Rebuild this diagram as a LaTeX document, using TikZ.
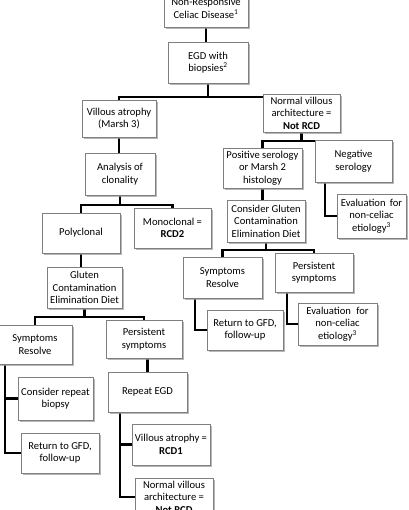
\documentclass[tikz,border=0pt]{standalone}
\usepackage{fontspec}
\setmainfont{Carlito}
\usetikzlibrary{shadows,backgrounds}
\definecolor{boxline}{HTML}{7F7F7F}
\begin{document}
\begin{tikzpicture}[x=1pt,y=-1pt,
  nbox/.style={rectangle, draw=boxline, line width=0.8pt, fill=white,
    drop shadow={shadow xshift=2pt, shadow yshift=-2pt, fill=black!40, opacity=0.7},
    align=center, inner sep=1pt, font=\fontsize{10.6}{12.5}\selectfont},
  conn/.style={draw=black, line width=2.2pt}]
\useasboundingbox (0,0) rectangle (408,510);
% nodes: center, width, height
\node[nbox, minimum width=84pt, minimum height=37pt] (A) at (206,8.5) {Non-Responsive\\Celiac Disease\textsuperscript{1}};
\node[nbox, minimum width=80pt, minimum height=41pt] (B) at (208,62.5) {EGD with\\biopsies\textsuperscript{2}};
\node[nbox, minimum width=74pt, minimum height=37pt] (C) at (119,118.5) {Villous atrophy\\(Marsh 3)};
\node[nbox, minimum width=77pt, minimum height=38pt] (D) at (301.5,113) {Normal villous\\architecture =\\\textbf{Not RCD}};
\node[nbox, minimum width=70pt, minimum height=42pt] (E) at (120,174) {Analysis of\\clonality};
\node[nbox, minimum width=78pt, minimum height=40pt] (F) at (81,233) {Polyclonal};
\node[nbox, minimum width=77pt, minimum height=40pt] (G) at (172.5,228) {Monoclonal =\\\textbf{RCD2}};
\node[nbox, minimum width=75pt, minimum height=41pt] (H) at (84.5,287.5) {Gluten\\Contamination\\Elimination Diet};
\node[nbox, minimum width=74pt, minimum height=39pt] (I) at (35,344.5) {Symptoms\\Resolve};
\node[nbox, minimum width=76pt, minimum height=38pt] (J) at (144,339) {Persistent\\symptoms};
\node[nbox, minimum width=75pt, minimum height=43pt] (K) at (55.5,398.5) {Consider repeat\\biopsy};
\node[nbox, minimum width=78pt, minimum height=40pt] (L) at (60,453) {Return to GFD,\\follow-up};
\node[nbox, minimum width=79pt, minimum height=40pt] (M) at (147.5,392) {Repeat EGD};
\node[nbox, minimum width=78pt, minimum height=41pt] (N) at (171,444.5) {Villous atrophy =\\\textbf{RCD1}};
\node[nbox, minimum width=78pt, minimum height=38pt] (O) at (174,497) {Normal villous\\architecture =\\\textbf{Not RCD}};
\node[nbox, minimum width=79pt, minimum height=40pt] (P) at (262.5,168) {Positive serology\\or Marsh 2\\histology};
\node[nbox, minimum width=77pt, minimum height=42pt] (Q) at (353.5,161) {Negative\\serology};
\node[nbox, minimum width=69pt, minimum height=44pt] (R) at (371.5,216) {Evaluation\hspace{0.4em}for\\non-celiac\\etiology\textsuperscript{3}};
\node[nbox, minimum width=78pt, minimum height=42pt] (S) at (266,221) {Consider Gluten\\Contamination\\Elimination Diet};
\node[nbox, minimum width=79pt, minimum height=41pt] (T) at (222.5,277.5) {Symptoms\\Resolve};
\node[nbox, minimum width=78pt, minimum height=39pt] (U) at (314,272.5) {Persistent\\symptoms};
\node[nbox, minimum width=76pt, minimum height=40pt] (V) at (245,330) {Return to GFD,\\follow-up};
\node[nbox, minimum width=79pt, minimum height=42pt] (W) at (337.5,324) {Evaluation\hspace{0.5em}for\\non-celiac\\etiology\textsuperscript{3}};
% bus levels and elbow columns
\coordinate (busB) at (0,97);
\coordinate (busE) at (0,205);
\coordinate (busH) at (0,317);
\coordinate (busD) at (0,141);
\coordinate (busS) at (0,250);
\coordinate (iL) at (5,0);
\coordinate (mL) at (120,0);
\coordinate (qL) at (325,0);
\coordinate (tL) at (195,0);
\coordinate (uL) at (287,0);
\begin{scope}[on background layer]
\fill[white] (0,0) rectangle (408,510);
\draw[conn] (A.south) -- (A.south |- B.north);
\draw[conn] (B.south) -- (B.south |- busB);
\draw[conn] (C.north) |- (D.north |- busB) -- (D.north);
\draw[conn] (C.south) -- (C.south |- E.north);
\draw[conn] (E.south) -- (E.south |- busE);
\draw[conn] (F.north) |- (G.north |- busE) -- (G.north);
\draw[conn] (F.south) -- (F.south |- H.north);
\draw[conn] (H.south) -- (H.south |- busH);
\draw[conn] (I.north) |- (J.north |- busH) -- (J.north);
\draw[conn] (I.south -| iL) |- (L.west);
\draw[conn] (iL |- K.west) -- (K.west);
\draw[conn] (M.north |- J.south) -- (M.north);
\draw[conn] (M.south -| mL) |- (O.west);
\draw[conn] (mL |- N.west) -- (N.west);
\draw[conn] (D.south) -- (D.south |- busD);
\draw[conn] (P.north) |- (Q.north |- busD) -- (Q.north);
\draw[conn] (P.south) -- (P.south |- S.north);
\draw[conn] (Q.south -| qL) |- (R.west);
\draw[conn] (S.south) -- (S.south |- busS);
\draw[conn] (T.north) |- (U.north |- busS) -- (U.north);
\draw[conn] (T.south -| tL) |- (V.west);
\draw[conn] (U.south -| uL) |- (W.west);
\end{scope}
\end{tikzpicture}
\end{document}
